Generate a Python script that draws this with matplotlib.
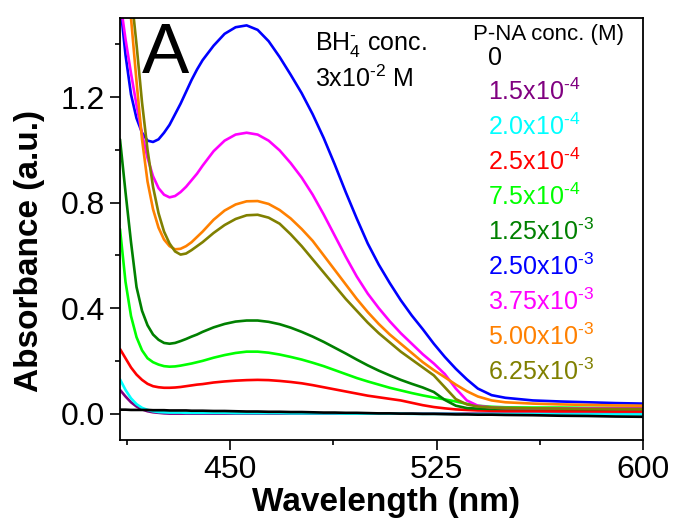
import matplotlib
matplotlib.use("Agg")
import matplotlib.pyplot as plt
from matplotlib.ticker import MultipleLocator, FormatStrFormatter

plt.rcParams['font.family'] = ['Liberation Sans', 'DejaVu Sans']
plt.rcParams['mathtext.fontset'] = 'custom'
plt.rcParams['mathtext.rm'] = 'Liberation Sans'
plt.rcParams['mathtext.it'] = 'Liberation Sans:italic'
plt.rcParams['mathtext.bf'] = 'Liberation Sans:bold'

wavelength = [410, 412, 414, 416, 418, 420, 422, 424, 426, 428, 430, 432, 434, 436, 438, 440,
              444, 448, 452, 456, 460, 464, 468, 472, 476, 480, 484, 488, 492, 496, 500,
              504, 508, 512, 516, 520, 524, 528, 532, 536, 540,
              545, 550, 560, 570, 580, 590, 600]

labels = ["0", "1.5x10$^{\\text{-4}}$", "2.0x10$^{\\text{-4}}$", "2.5x10$^{\\text{-4}}$",
          "7.5x10$^{\\text{-4}}$", "1.25x10$^{\\text{-3}}$", "2.50x10$^{\\text{-3}}$",
          "3.75x10$^{\\text{-3}}$", "5.00x10$^{\\text{-3}}$", "6.25x10$^{\\text{-3}}$"]
colors = ["#000000", "#800080", "#00FFFF", "#FF0000", "#00FF00",
          "#008000", "#0000FF", "#FF00FF", "#FF8000", "#808000"]

abs_0 = [0.015, 0.015, 0.014, 0.014, 0.014, 0.014, 0.013, 0.013, 0.013, 0.012, 0.012, 0.012, 0.012, 0.011, 0.011, 0.011,
         0.010, 0.010, 0.009, 0.008, 0.008, 0.007, 0.007, 0.006, 0.006, 0.005, 0.004, 0.004, 0.003, 0.003, 0.002,
         0.001, 0.001, 0.000, 0.000, -0.001, -0.001, -0.002, -0.003, -0.003, -0.004,
         -0.004, -0.005, -0.006, -0.008, -0.009, -0.011, -0.012]
abs_15e4 = [0.090, 0.065, 0.043, 0.027, 0.016, 0.009, 0.005, 0.003, 0.001, 0.000, 0.000, 0.000, 0.000, 0.000, 0.000, 0.000,
            0.000, 0.000, 0.000, 0.000, 0.000, 0.000, 0.000, 0.000, 0.000, 0.000, 0.000, 0.000, 0.000, 0.000, 0.000,
            0.000, 0.000, 0.000, 0.000, 0.000, 0.000, 0.000, 0.000, 0.000, 0.000,
            0.000, 0.000, 0.000, 0.000, 0.000, 0.000, 0.000]
abs_20e4 = [0.130, 0.090, 0.058, 0.036, 0.022, 0.014, 0.009, 0.006, 0.005, 0.004, 0.004, 0.004, 0.003, 0.003, 0.003, 0.003,
            0.003, 0.003, 0.002, 0.002, 0.002, 0.002, 0.002, 0.001, 0.001, 0.001, 0.001, 0.001, 0.000, 0.000, 0.000,
            0.000, 0.000, 0.000, -0.001, -0.001, -0.001, -0.001, -0.001, -0.002, -0.002,
            -0.002, -0.002, -0.002, -0.003, -0.003, -0.003, -0.003]
abs_25e4 = [0.245, 0.210, 0.175, 0.148, 0.128, 0.113, 0.104, 0.100, 0.098, 0.098, 0.099, 0.101, 0.104, 0.107, 0.110, 0.112,
            0.118, 0.122, 0.125, 0.127, 0.128, 0.127, 0.124, 0.120, 0.115, 0.108, 0.100, 0.092, 0.084, 0.076, 0.068,
            0.062, 0.056, 0.050, 0.041, 0.032, 0.025, 0.020, 0.016, 0.014, 0.012,
            0.011, 0.010, 0.010, 0.009, 0.009, 0.008, 0.008]
abs_75e4 = [0.700, 0.500, 0.370, 0.290, 0.240, 0.210, 0.195, 0.186, 0.180, 0.178, 0.179, 0.182, 0.186, 0.190, 0.195, 0.200,
            0.212, 0.222, 0.230, 0.235, 0.235, 0.231, 0.224, 0.215, 0.205, 0.193, 0.180, 0.165, 0.150, 0.135, 0.122,
            0.110, 0.098, 0.088, 0.078, 0.069, 0.061, 0.054, 0.046, 0.037, 0.030,
            0.026, 0.024, 0.023, 0.023, 0.022, 0.022, 0.022]
abs_125e3 = [1.040, 0.840, 0.650, 0.480, 0.390, 0.335, 0.300, 0.280, 0.268, 0.265, 0.268, 0.275, 0.283, 0.292, 0.300, 0.310,
             0.327, 0.340, 0.349, 0.353, 0.353, 0.348, 0.339, 0.326, 0.310, 0.292, 0.272, 0.250, 0.228, 0.205, 0.183,
             0.163, 0.145, 0.128, 0.113, 0.099, 0.082, 0.052, 0.030, 0.021, 0.019,
             0.018, 0.018, 0.018, 0.018, 0.017, 0.017, 0.017]
abs_250e3 = [1.560, 1.360, 1.210, 1.120, 1.065, 1.035, 1.030, 1.040, 1.065, 1.095, 1.135, 1.175, 1.220, 1.265, 1.305, 1.340,
             1.395, 1.440, 1.465, 1.472, 1.455, 1.412, 1.352, 1.285, 1.215, 1.135, 1.045, 0.945, 0.840, 0.740, 0.645,
             0.565, 0.495, 0.430, 0.372, 0.320, 0.265, 0.215, 0.170, 0.130, 0.095,
             0.070, 0.060, 0.050, 0.046, 0.043, 0.040, 0.038]
abs_375e3 = [1.570, 1.420, 1.290, 1.170, 1.060, 0.970, 0.900, 0.855, 0.830, 0.820, 0.825, 0.840, 0.860, 0.885, 0.910, 0.940,
             0.995, 1.035, 1.058, 1.065, 1.058, 1.035, 0.998, 0.950, 0.895, 0.830, 0.755, 0.675, 0.595, 0.520, 0.455,
             0.400, 0.350, 0.305, 0.265, 0.225, 0.190, 0.150, 0.095, 0.050, 0.030,
             0.023, 0.021, 0.020, 0.020, 0.020, 0.020, 0.020]
abs_500e3 = [1.950, 1.720, 1.500, 1.260, 1.040, 0.880, 0.775, 0.705, 0.660, 0.635, 0.623, 0.625, 0.635, 0.650, 0.670, 0.690,
             0.735, 0.770, 0.793, 0.805, 0.806, 0.795, 0.772, 0.740, 0.700, 0.655, 0.600, 0.545, 0.490, 0.435, 0.385,
             0.340, 0.300, 0.265, 0.230, 0.195, 0.165, 0.138, 0.110, 0.085, 0.065,
             0.050, 0.043, 0.038, 0.035, 0.033, 0.031, 0.030]
abs_625e3 = [2.100, 1.850, 1.600, 1.400, 1.180, 1.000, 0.860, 0.760, 0.690, 0.645, 0.615, 0.603, 0.607, 0.620, 0.635, 0.650,
             0.685, 0.715, 0.738, 0.752, 0.754, 0.743, 0.720, 0.680, 0.635, 0.585, 0.535, 0.485, 0.435, 0.390, 0.345,
             0.305, 0.270, 0.235, 0.205, 0.175, 0.145, 0.100, 0.055, 0.035, 0.027,
             0.023, 0.021, 0.020, 0.019, 0.018, 0.018, 0.018]

series = [abs_0, abs_15e4, abs_20e4, abs_25e4, abs_75e4, abs_125e3,
          abs_250e3, abs_375e3, abs_500e3, abs_625e3]

W, H = 675, 523
fig = plt.figure(figsize=(W / 100, H / 100), dpi=100)
ax = fig.add_axes([120 / W, 1 - 440 / H, 523 / W, 422 / H])

order = [1, 2, 3, 4, 5, 6, 7, 8, 9, 0]
for i in order:
    ax.plot(wavelength, series[i], color=colors[i], lw=1.9, solid_joinstyle='round',
            solid_capstyle='round', zorder=3 if i == 0 else 2)

ax.set_xlim(410, 600)
ax.set_ylim(-0.1, 1.5)
ax.set_xticks([450, 525, 600])
ax.set_xticks([412.5, 487.5, 562.5], minor=True)
ax.yaxis.set_major_locator(MultipleLocator(0.4))
ax.yaxis.set_minor_locator(MultipleLocator(0.2))
ax.yaxis.set_major_formatter(FormatStrFormatter('%.1f'))
ax.tick_params(which='major', direction='out', length=7, width=1.2, labelsize=23, pad=4,
               top=False, right=False)
ax.tick_params(which='minor', direction='out', length=3.5, width=1.2, top=False, right=False)
for s in ax.spines.values():
    s.set_linewidth(1.3)

fig.text(30 / W, 1 - 251 / H, "Absorbance (a.u.)", rotation=90, ha='center', va='center',
         fontsize=24, fontweight='bold')
fig.text(386 / W, 1 - 503 / H, "Wavelength (nm)", ha='center', va='center',
         fontsize=24, fontweight='bold')

fig.text(142 / W, 1 - 73 / H, "A", fontsize=51, ha='left', va='baseline')
fig.text(315 / W, 1 - 50 / H, "BH$_4^{\\text{-}}$ conc.", fontsize=18, ha='left', va='baseline')
fig.text(315 / W, 1 - 87 / H, "3x10$^{\\text{-2}}$ M", fontsize=18, ha='left', va='baseline')

fig.text(473 / W, 1 - 40 / H, "P-NA conc. (M)", fontsize=16, ha='left', va='baseline')
for i, (lab, c) in enumerate(zip(labels, colors)):
    fig.text(488 / W, 1 - (65 + 35 * i) / H, lab, color=c, fontsize=18,
             ha='left', va='baseline')

fig.savefig("out.png", dpi=100)
